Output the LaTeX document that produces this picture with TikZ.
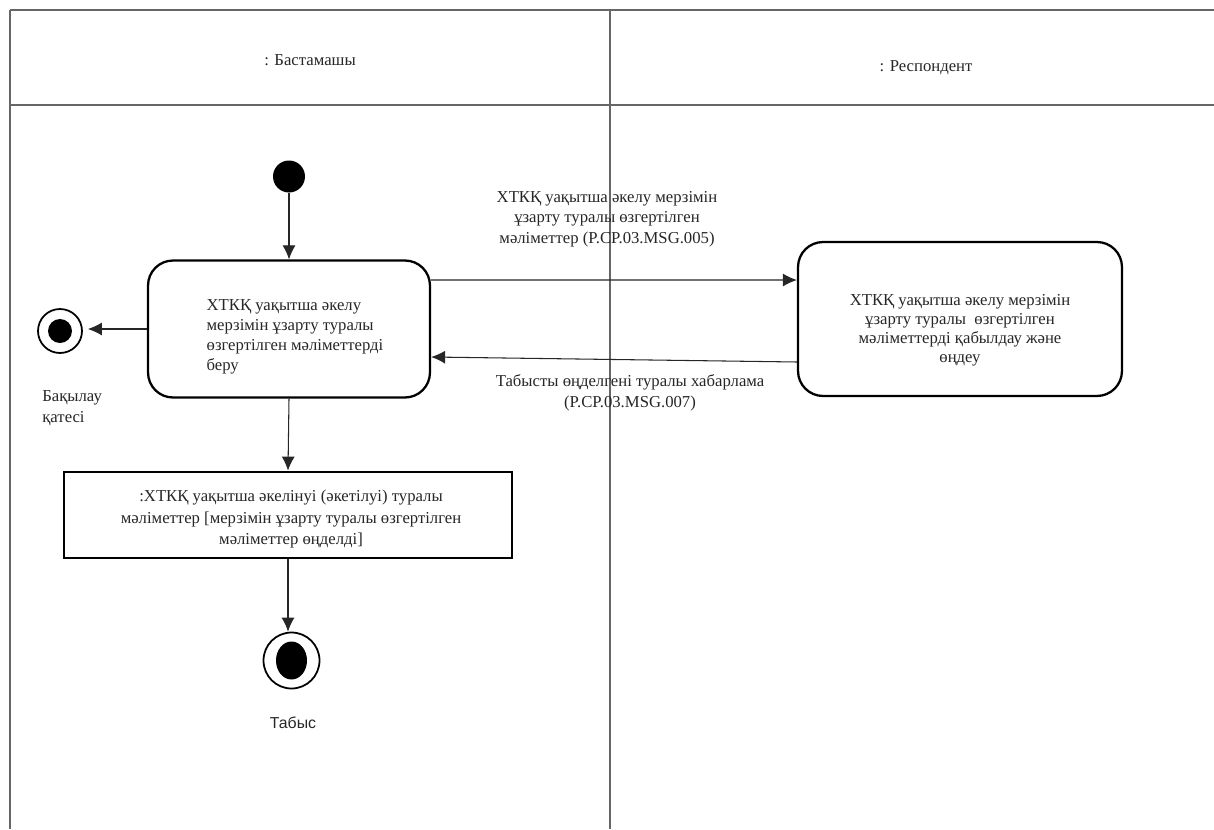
\documentclass[tikz,border=0pt]{standalone}
\usepackage{fontspec}
\setmainfont{Liberation Serif}
\newfontfamily\sansf{Liberation Sans}
\usetikzlibrary{arrows.meta,calc}
\tikzset{
  lane/.style={draw=black!60, line width=1pt},
  txt/.style={font=\fontsize{9.5}{11.8}\selectfont, text=black!85, inner sep=0pt},
  actbox/.style={draw, rounded corners=0.5cm, line width=1.3pt, inner sep=0pt},
  objbox/.style={draw, line width=1.6pt, inner sep=0pt},
  startdot/.style={circle, fill=black, minimum size=0.64cm, inner sep=0pt},
  endring/.style={circle, draw, line width=1pt, inner sep=0pt},
  conn/.style={-{Latex[length=0.28cm,width=0.26cm]}, line width=0.6pt, draw=black!85},
}
\begin{document}
\begin{tikzpicture}[x=0.02cm,y=-0.02cm]
\useasboundingbox (0,0) rectangle (1214,829);
% swimlanes
\draw[lane] (10,10) -- (1214,10);
\draw[lane] (10,105) -- (1214,105);
\draw[lane] (10,10) -- (10,829);
\draw[lane] (610,10) -- (610,829);
\node[txt] (lane1) at (310,60) {: Бастамашы};
\node[txt] (lane2) at (926,68) {: Респондент};
% nodes
\node[startdot] (start) at (289,176.5) {};
\node[actbox, minimum width=5.64cm, minimum height=2.74cm] (a) at (289,329) {};
\node[txt, align=left, font=\fontsize{9.5}{11.4}\selectfont] (atext) at (295,337)
  {ХТКҚ уақытша әкелу\\ мерзімін ұзарту туралы\\ өзгертілген мәліметтерді\\ беру};
\node[actbox, minimum width=6.48cm, minimum height=3.08cm] (b) at (960,319) {};
\node[txt, align=center, font=\fontsize{9.5}{10.9}\selectfont] (btext) at (960,330)
  {ХТКҚ уақытша әкелу мерзімін\\ ұзарту туралы\ \ өзгертілген\\ мәліметтерді қабылдау және\\ өңдеу};
\node[objbox, minimum width=8.96cm, minimum height=1.72cm] (c) at (288,515) {};
\node[txt, align=center, font=\fontsize{9.5}{12.2}\selectfont] (ctext) at (291,519)
  {:ХТКҚ уақытша әкелінуі (әкетілуі) туралы\\ мәліметтер [мерзімін ұзарту туралы өзгертілген\\ мәліметтер өңделді]};
\node[endring, minimum size=0.88cm] (err) at (60,331) {};
\fill (err.center) circle (0.24cm);
\node[txt, align=left, anchor=west] (errlbl) at (42,408) {Бақылау\\қатесі};
\node[endring, minimum size=1.12cm] (ok) at (291.5,660.5) {};
\fill (ok.center) ellipse [x radius=0.31cm, y radius=0.38cm];
\node[txt, font=\sansf\fontsize{9}{11}\selectfont] (oklbl) at (293,723) {Табыс};
% message labels
\node[txt, align=center] (m1) at (607,219)
  {ХТКҚ уақытша әкелу мерзімін\\ ұзарту туралы өзгертілген\\ мәліметтер (P.CP.03.MSG.005)};
\node[txt, align=center] (m2) at (630,393)
  {Табысты өңделгені туралы хабарлама\\ (P.CP.03.MSG.007)};
% connectors
\draw[conn] (start) -- (a.north);
\draw[conn, shorten >=0.1cm] (a.west) -- (a.west -| err.east);
\draw[conn] ([yshift=0.98cm]a.east) -- ([yshift=0.78cm]b.west);
\draw[conn] ([yshift=-0.86cm]b.west) -- ([yshift=-0.56cm]a.east);
\draw[conn] (a.south) -- (c.north);
\draw[conn] (c.south) -- (c.south |- ok.north);
\end{tikzpicture}
\end{document}
